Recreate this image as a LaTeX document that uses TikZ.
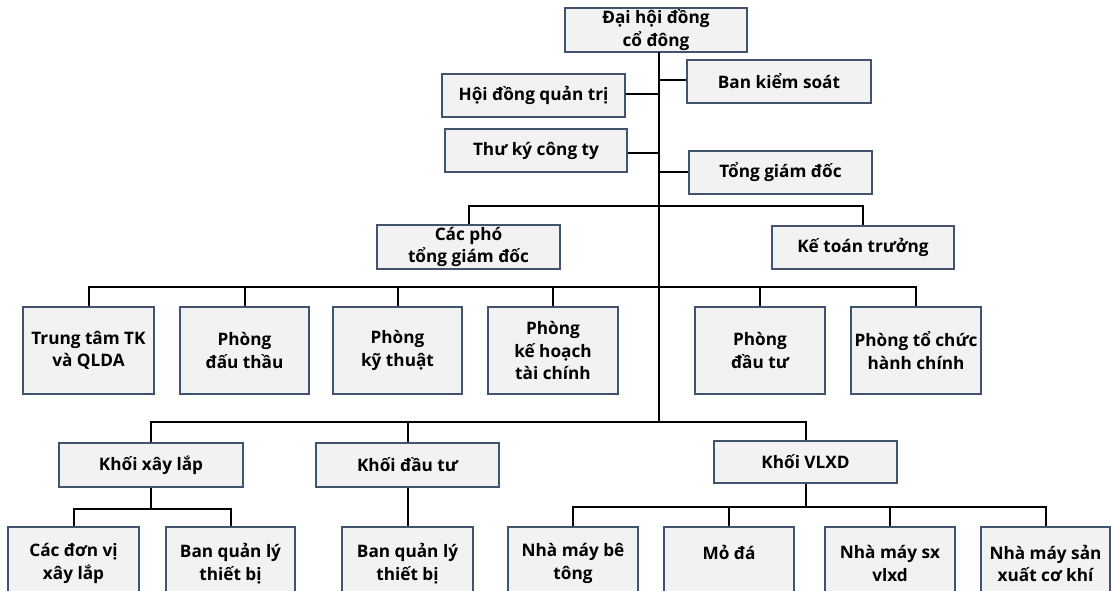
\documentclass[tikz,border=0pt]{standalone}
\usepackage{fontspec}
\setmainfont{Open Sans}
\definecolor{boxfill}{HTML}{F2F2F2}
\definecolor{boxline}{HTML}{41536E}
\tikzset{
  orgbox/.style={draw=boxline, fill=boxfill, line width=1.3pt, inner sep=0pt,
    align=center, font=\fontsize{17.2}{22.5}\selectfont\bfseries},
  link/.style={draw=black, line width=2pt},
}
\newcommand\bx[6]{%
  \node[orgbox, minimum width={(#4-#2)*1pt}, minimum height={(#5-#3)*1pt}]
    (#1) at ({(#2+#4)/2},{(#3+#5)/2}) {#6};}
\begin{document}
\begin{tikzpicture}[x=1pt,y=-1pt]
\clip (0,0) rectangle (1111,591);
\fill[white] (0,0) rectangle (1111,591);
% boxes
\bx{dh}{565}{8}{747}{52}{Đại hội đồng\\cổ đông}
\bx{bks}{687}{60}{871}{103}{Ban kiểm soát}
\bx{hdqt}{442}{74}{625}{117}{Hội đồng quản trị}
\bx{tk}{445}{129}{627}{172}{Thư ký công ty}
\bx{tgd}{689}{151}{872}{194}{Tổng giám đốc}
\bx{cp}{377}{225}{560}{269}{Các phó\\tổng giám đốc}
\bx{ktt}{772}{226}{954}{269}{Kế toán trưởng}
\bx{tt}{23}{307}{154}{394}{Trung tâm TK\\và QLDA}
\bx{pdt}{180}{307}{309}{394}{Phòng\\đấu thầu}
\bx{pkt}{333}{307}{462}{394}{Phòng\\kỹ thuật}
\bx{pkh}{488}{307}{618}{394}{Phòng\\kế hoạch\\tài chính}
\bx{pdtu}{695}{307}{825}{394}{Phòng\\đầu tư}
\bx{ptc}{851}{307}{981}{394}{Phòng tổ chức\\hành chính}
\bx{kxl}{59}{443}{243}{487}{Khối xây lắp}
\bx{kdt}{316}{443}{499}{487}{Khối đầu tư}
\bx{kvl}{714}{441}{897}{483}{Khối VLXD}
\bx{cdv}{8}{527}{139}{600}{Các đơn vị\\xây lắp}
\bx{bqla}{166}{527}{295}{600}{Ban quản lý\\thiết bị}
\bx{bqlb}{342}{527}{473}{600}{Ban quản lý\\thiết bị}
\bx{nmbt}{508}{527}{638}{600}{Nhà máy bê\\tông}
\bx{mda}{664}{527}{794}{600}{Mỏ đá\\\phantom{x}}
\bx{nmsx}{825}{527}{955}{600}{Nhà máy sx\\vlxd}
\bx{nmck}{981}{527}{1110}{600}{Nhà máy sản\\xuất cơ khí}
% trunk
\coordinate (ttop) at (659,52);
\coordinate (tbot) at (659,422);
\draw[link] (ttop) -- (tbot);
\draw[link] (ttop |- 0,80) -- (bks.west |- 0,80);
\draw[link] (hdqt.east |- 0,94) -- (ttop |- 0,94);
\draw[link] (tk.east |- 0,153) -- (ttop |- 0,153);
\draw[link] (ttop |- 0,172) -- (tgd.west |- 0,172);
% bar 1
\draw[link] (cp.north) -- (cp.north |- 0,206) -- (ktt.north |- 0,206) -- (ktt.north);
% bar 2
\draw[link] (tt.north) -- (tt.north |- 0,287) -- (ptc.north |- 0,287) -- (ptc.north);
\foreach \n in {pdt,pkt,pkh,pdtu} \draw[link] (\n.north) -- (\n.north |- 0,287);
% bar 3
\draw[link] (kxl.north) -- (kxl.north |- 0,422) -- (kvl.north |- 0,422) -- (kvl.north);
\draw[link] (kdt.north) -- (kdt.north |- 0,422);
% kxl children
\draw[link] (kxl.south) -- (kxl.south |- 0,509);
\draw[link] (cdv.north) -- (cdv.north |- 0,509) -- (bqla.north |- 0,509) -- (bqla.north);
% kdt child
\draw[link] (kdt.south) -- (bqlb.north);
% kvl children
\draw[link] (kvl.south) -- (kvl.south |- 0,507);
\draw[link] (nmbt.north) -- (nmbt.north |- 0,507) -- (nmck.north |- 0,507) -- (nmck.north);
\foreach \n in {mda,nmsx} \draw[link] (\n.north) -- (\n.north |- 0,507);
\end{tikzpicture}
\end{document}
